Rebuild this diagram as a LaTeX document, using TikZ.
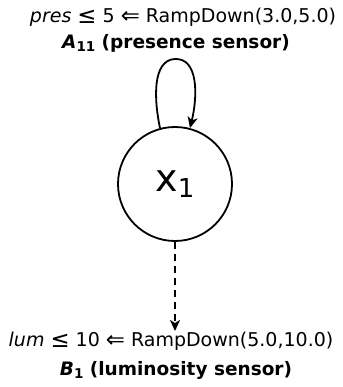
\documentclass[tikz,border=0pt]{standalone}
\usepackage{fontspec}
\setmainfont{DejaVu Sans}
\usetikzlibrary{arrows.meta}
\tikzset{
  lbl/.style={inner sep=0pt, font=\fontsize{19}{22}\selectfont},
  blbl/.style={inner sep=0pt, font=\fontsize{18.5}{22}\selectfont\bfseries},
  state/.style={draw, circle, line width=1.8pt, minimum size=114pt, inner sep=0pt, font=\fontsize{38}{44}\selectfont},
  conn/.style={line width=1.8pt, -{Stealth[length=11pt,width=10pt,inset=3pt]}}
}
\newcommand{\subsc}[1]{\raisebox{-0.3ex}{\fontsize{13.5}{15}\selectfont #1}}
\newcommand{\bigsym}[1]{\raisebox{-0.1ex}{\scalebox{1.2}{#1}}}
\begin{document}
\begin{tikzpicture}[x=1pt,y=-1pt]
\useasboundingbox (0,0) rectangle (342,387);
\node[lbl] (t1) at (183,17) {\textit{pres} \bigsym{≤} 5 \bigsym{⇐} RampDown(3.0,5.0)};
\node[blbl] (t2) at (176,43) {\textit{A}\subsc{11} (presence sensor)};
\node[state] (x) at (175,184) {x\raisebox{-0.3ex}{\fontsize{26}{28}\selectfont 1}};
\node[lbl] (b1) at (171,341) {\textit{lum} \bigsym{≤} 10 \bigsym{⇐} RampDown(5.0,10.0)};
\node[blbl] (b2) at (176,370) {\textit{B}\subsc{1} (luminosity sensor)};
\coordinate (tip) at (175,331);
\draw[conn] (x.105) .. controls (154,100) and (152,60) .. (175,59) .. controls (198,58) and (198,95) .. (x.75);
\draw[conn, dash pattern=on 7pt off 5pt] (x.south) -- (tip);
\end{tikzpicture}
\end{document}
